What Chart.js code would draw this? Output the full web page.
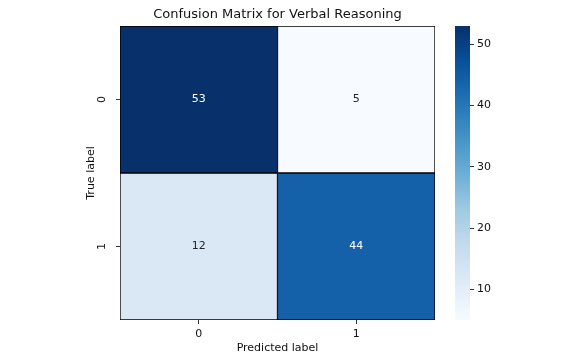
<!DOCTYPE html>
<html>
<head>
<meta charset="utf-8">
<script src="https://cdn.jsdelivr.net/npm/chart.js@4"></script>
<style>
  html, body { margin: 0; padding: 0; background: #fff; }
  #wrap { position: relative; width: 568px; height: 358px; overflow: hidden; }
  #main { position: absolute; left: 0; top: 0; }
  #cbar { position: absolute; left: 440px; top: 0; }
</style>
</head>
<body>
<div id="wrap">
  <canvas id="main" width="568" height="358"></canvas>
  <canvas id="cbar" width="128" height="358"></canvas>
</div>
<script>
// ---- data ----
const predictedLabels = ['0', '1'];
const trueLabels = ['0', '1'];
const countsTrue0 = [53, 5];
const countsTrue1 = [12, 44];
const colorbarTicks = [10, 20, 30, 40, 50];
const chartTitle = 'Confusion Matrix for Verbal Reasoning';
const xTitle = 'Predicted label';
const yTitle = 'True label';

const rows = [countsTrue0, countsTrue1];
const allVals = rows.flat();
const vmin = Math.min(...allVals);
const vmax = Math.max(...allVals);
const nRows = trueLabels.length;

// matplotlib "Blues" colormap anchors
const BLUES = ['#f7fbff', '#deebf7', '#c6dbef', '#9ecae1', '#6baed6', '#4292c6', '#2171b5', '#08519c', '#08306b'];
function hexToRgb(h) { return [1, 3, 5].map(i => parseInt(h.substr(i, 2), 16)); }
const BLUES_RGB = BLUES.map(hexToRgb);
function blues(t) {
  t = Math.max(0, Math.min(1, t));
  const p = t * (BLUES_RGB.length - 1);
  const i = Math.min(Math.floor(p), BLUES_RGB.length - 2);
  const f = p - i;
  const a = BLUES_RGB[i], b = BLUES_RGB[i + 1];
  return a.map((v, k) => v + (b[k] - v) * f);
}
function rgbStr(c) { return 'rgb(' + c.map(Math.round).join(',') + ')'; }
function colorFor(v) { return rgbStr(blues((v - vmin) / (vmax - vmin))); }
function relLum(c) {
  const lin = c.map(x => { x /= 255; return x <= 0.03928 ? x / 12.92 : Math.pow((x + 0.055) / 1.055, 2.4); });
  return 0.2126 * lin[0] + 0.7152 * lin[1] + 0.0722 * lin[2];
}
function textColorFor(v) {
  return relLum(blues((v - vmin) / (vmax - vmin))) > 0.408 ? '#262626' : '#ffffff';
}

Chart.defaults.font.family = 'DejaVu Sans';
Chart.defaults.color = '#111';

const datasets = rows.map((row, i) => ({
  label: 'True ' + trueLabels[i],
  rawValues: row,
  data: row.map(() => [nRows - 1 - i, nRows - i]),
  backgroundColor: row.map(colorFor),
  borderColor: '#000',
  borderWidth: 1,
  borderSkipped: false,
  grouped: false,
  barPercentage: 1,
  categoryPercentage: 1
}));

const annotate = {
  id: 'annotate',
  afterDatasetsDraw(chart) {
    const ctx = chart.ctx;
    ctx.save();
    ctx.font = '11px "DejaVu Sans"';
    ctx.textAlign = 'center';
    ctx.textBaseline = 'middle';
    chart.data.datasets.forEach((ds, di) => {
      const meta = chart.getDatasetMeta(di);
      meta.data.forEach((el, j) => {
        const v = ds.rawValues[j];
        ctx.fillStyle = textColorFor(v);
        ctx.fillText(String(v), el.x, (el.y + el.base) / 2);
      });
    });
    ctx.restore();
  }
};

new Chart(document.getElementById('main'), {
  type: 'bar',
  data: { labels: predictedLabels, datasets },
  plugins: [annotate],
  options: {
    responsive: false,
    animation: false,
    events: [],
    layout: { padding: { left: 85, right: 133, top: 0, bottom: 0 } },
    plugins: {
      legend: { display: false },
      tooltip: { enabled: false },
      title: {
        display: true,
        text: chartTitle,
        fullSize: false,
        color: '#111',
        font: { size: 13, weight: 'normal' },
        padding: { top: 7, bottom: 3.4 }
      }
    },
    scales: {
      x: {
        type: 'category',
        offset: true,
        grid: { display: true, drawOnChartArea: false, offset: false, tickLength: 4, color: '#333' },
        border: { display: false },
        ticks: { padding: 4, font: { size: 11 }, color: '#111' },
        title: { display: true, text: xTitle, font: { size: 11 }, color: '#111', padding: { top: 0, bottom: 3 } },
        afterFit(s) { s.height = 38; }
      },
      y: {
        type: 'linear',
        min: 0,
        max: nRows,
        grid: { display: true, drawOnChartArea: false, tickLength: 4, color: '#333' },
        border: { display: false },
        afterBuildTicks(s) { s.ticks = trueLabels.map((l, i) => ({ value: i + 0.5 })); },
        ticks: {
          minRotation: 90, maxRotation: 90,
          crossAlign: 'center',
          padding: 10,
          font: { size: 11 },
          color: '#111',
          callback: (value) => trueLabels[nRows - 1 - Math.floor(value)]
        },
        title: { display: true, text: yTitle, font: { size: 11 }, color: '#111', padding: { top: 0, bottom: 0 } },
        afterFit(s) { s.width = 35; }
      }
    }
  }
});

// ---- colorbar ----
new Chart(document.getElementById('cbar'), {
  type: 'bar',
  data: {
    labels: [''],
    datasets: [{
      data: [[vmin, vmax]],
      borderWidth: 0,
      barPercentage: 1,
      categoryPercentage: 1,
      backgroundColor(ctx) {
        const chart = ctx.chart;
        const ca = chart.chartArea;
        if (!ca) return BLUES[4];
        const ys = chart.scales.y;
        const g = chart.ctx.createLinearGradient(0, ys.getPixelForValue(vmin), 0, ys.getPixelForValue(vmax));
        BLUES.forEach((c, i) => g.addColorStop(i / (BLUES.length - 1), c));
        return g;
      }
    }]
  },
  options: {
    responsive: false,
    animation: false,
    events: [],
    layout: { padding: { left: 15, right: 0, top: 26, bottom: 38 } },
    plugins: { legend: { display: false }, tooltip: { enabled: false }, title: { display: false } },
    scales: {
      x: { display: false, offset: true },
      y: {
        position: 'right',
        min: vmin,
        max: vmax,
        grid: { display: true, drawOnChartArea: false, tickLength: 4, color: '#333' },
        border: { display: false },
        afterBuildTicks(s) { s.ticks = colorbarTicks.map(v => ({ value: v })); },
        ticks: { padding: 3, font: { size: 11 }, color: '#111' },
        afterFit(s) { s.width = 98; }
      }
    }
  }
});
</script>
</body>
</html>
